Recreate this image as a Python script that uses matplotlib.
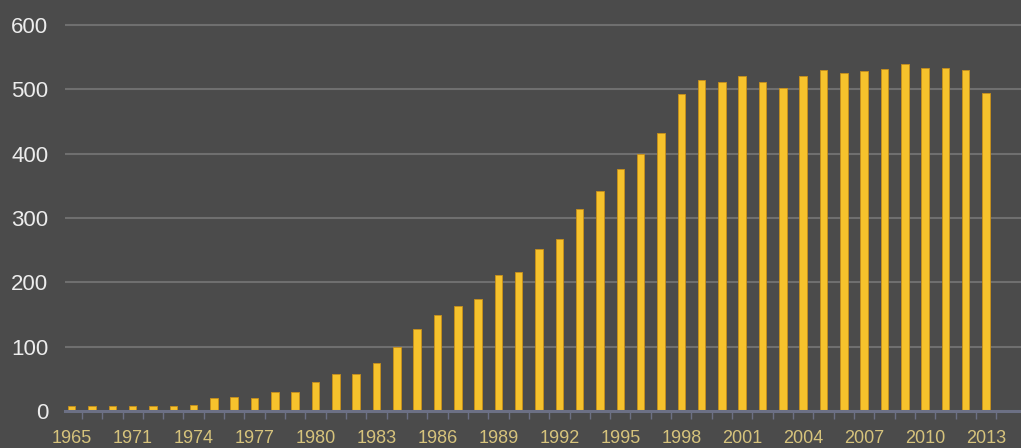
import matplotlib.pyplot as plt
import numpy as np

# yearly counts, one bar per year
years = ["1965", "1969", "1970"] + [str(y) for y in range(1971, 2014)]
values = [
    7, 7, 7, 7, 7, 7, 10, 20, 21, 20,
    30, 30, 45, 57, 58, 74, 100, 127, 150, 163,
    174, 211, 216, 252, 267, 314, 342, 376, 399, 432,
    493, 515, 512, 521, 512, 503, 521, 530, 525, 528,
    532, 539, 533, 533, 531, 494,
]
y_ticks = [0, 100, 200, 300, 400, 500, 600]

bg = "#4b4b4b"
bar_color = "#f6c22c"
grid_color = "#6f6f6f"
axis_color = "#6c7084"

fig = plt.figure(figsize=(10.21, 4.48), dpi=100, facecolor=bg)
ax = fig.add_axes([65 / 1021, 1 - 411 / 448, 1 - 65 / 1021, 411 / 448 - 2 / 448])
ax.set_facecolor(bg)

x = np.arange(len(years))
ax.bar(x, values, width=0.37, color=bar_color, edgecolor="#c8901a",
       linewidth=0.6, zorder=3)

ax.set_xlim(-0.33, len(years) - 1 + 1.72)
ax.set_ylim(0, 636)

# horizontal gridlines, the bottom axis takes the zero line
for v in y_ticks[1:]:
    ax.axhline(v, color=grid_color, linewidth=1.5, zorder=1)

for side in ["top", "right", "left"]:
    ax.spines[side].set_visible(False)
ax.spines["bottom"].set_color(axis_color)
ax.spines["bottom"].set_linewidth(2.2)
ax.spines["bottom"].set_zorder(4)

ax.set_yticks(y_ticks)
ax.set_yticklabels([str(v) for v in y_ticks], family="Liberation Sans",
                   fontsize=16, color="#ececec")
ax.tick_params(axis="y", length=0, pad=12)

ax.set_xticks(x[::3])
ax.set_xticklabels(years[::3], family="Liberation Sans", fontsize=13,
                   color="#d6c37c")
ax.set_xticks(x + 0.5, minor=True)
ax.tick_params(axis="x", which="major", length=0, pad=14)
ax.tick_params(axis="x", which="minor", length=6, width=1, color=axis_color)

fig.savefig("out.png", dpi=100, facecolor=bg)
